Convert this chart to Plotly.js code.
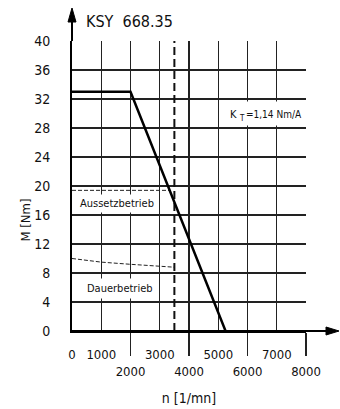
<!DOCTYPE html>
<html><head><meta charset="utf-8">
<script src="https://cdn.plot.ly/plotly-3.0.1.min.js"></script>
<style>html,body{margin:0;padding:0;background:#fff}#chart{width:340px;height:409px}</style>
</head><body><div id="chart"></div>
<script>
// Characteristic M(n)
const speedCurve = [0, 2000, 5250];
const torqueCurve = [33, 33, 0];
// Vertical dashed limit
const limitSpeed = [3500, 3500];
const limitTorque = [0, 40];
// Intermittent duty (Aussetzbetrieb) dashed line
const s3Speed = [0, 3350];
const s3Torque = [19.4, 19.4];
// Continuous duty (Dauerbetrieb) dashed line
const s1Speed = [0, 1000, 2000, 3000, 3500];
const s1Torque = [10.0, 9.5, 9.2, 8.95, 8.8];
// Ticks
const xTicks = [0, 1000, 2000, 3000, 4000, 5000, 6000, 7000, 8000];
const xTickText = ['0', '1000', '<br>2000', '3000', '<br>4000', '5000', '<br>6000', '7000', '<br>8000'];
const xLongTicks = [2000, 4000, 6000, 8000];
const yTicks = [0, 4, 8, 12, 16, 20, 24, 28, 32, 36, 40];

const FONT = '"DejaVu Sans Condensed", "Liberation Sans Narrow", "DejaVu Sans", sans-serif';
const INK = '#111';

// pixel -> paper helpers for axis decorations (plot area 72..306 x 41..331)
const px = v => (v - 72) / 234;
const py = v => (331 - v) / 290;

const traces = [
  {x: s3Speed, y: s3Torque, mode: 'lines', line: {color: '#222', width: 1, dash: '4px,2px'}, hoverinfo: 'skip'},
  {x: s1Speed, y: s1Torque, mode: 'lines', line: {color: '#222', width: 1, dash: '4px,2px'}, hoverinfo: 'skip'},
  {x: limitSpeed, y: limitTorque, mode: 'lines', line: {color: '#111', width: 2, dash: '8px,4px'}, hoverinfo: 'skip'},
  {x: speedCurve, y: torqueCurve, mode: 'lines', line: {color: '#000', width: 2.5}, hoverinfo: 'skip'}
];

const ktX = 5368, ktY = 29.9;

const layout = {
  width: 340, height: 409,
  margin: {l: 72, r: 34, t: 41, b: 78, pad: 0},
  paper_bgcolor: '#fff', plot_bgcolor: '#fff',
  showlegend: false,
  font: {family: FONT, color: INK, size: 13},
  title: {text: 'KSY&nbsp;&nbsp;668.35', x: 86/340, xanchor: 'left', y: 1 - 21/409, yanchor: 'middle',
          font: {family: FONT, size: 16, color: INK}},
  xaxis: {
    title: {text: 'n [1/mn]', standoff: 16, font: {family: FONT, size: 14, color: INK}},
    range: [0, 8000], tickmode: 'array', tickvals: xTicks, ticktext: xTickText, tickangle: 0,
    ticks: 'outside', ticklen: 10, tickcolor: 'rgba(0,0,0,0)',
    showgrid: true, gridcolor: '#222', gridwidth: 1.4,
    showline: true, linecolor: '#000', linewidth: 2, zeroline: false,
    tickfont: {family: FONT, size: 13, color: INK},
    minor: {tickmode: 'array', tickvals: xLongTicks, ticks: 'outside', ticklen: 23, tickwidth: 1.2, tickcolor: '#222', showgrid: false},
    fixedrange: true
  },
  yaxis: {
    range: [0, 40], tickmode: 'array', tickvals: yTicks,
    ticks: 'outside', ticklen: 17, tickcolor: 'rgba(0,0,0,0)',
    showgrid: true, gridcolor: '#222', gridwidth: 1.4,
    showline: true, linecolor: '#000', linewidth: 2, zeroline: false,
    tickfont: {family: FONT, size: 14, color: INK},
    fixedrange: true
  },
  shapes: [
    {type: 'rect', xref: 'x', yref: 'y', x0: 5220, x1: 7880, y0: 28.35, y1: 31.65, layer: 'above',
     fillcolor: '#fff', line: {width: 0}},
    {type: 'line', xref: 'paper', yref: 'paper', x0: 0, x1: px(330), y0: 0, y1: 0, line: {color: '#000', width: 2}},
    {type: 'path', xref: 'paper', yref: 'paper',
     path: `M ${px(339)} ${py(331)} L ${px(326)} ${py(327)} L ${px(326)} ${py(335)} Z`,
     fillcolor: '#000', line: {color: '#000', width: 1}},
    {type: 'line', xref: 'paper', yref: 'paper', x0: 0, x1: 0, y0: 1, y1: py(18), line: {color: '#000', width: 2}},
    {type: 'path', xref: 'paper', yref: 'paper',
     path: `M ${px(72)} ${py(8)} L ${px(68)} ${py(22)} L ${px(76)} ${py(22)} Z`,
     fillcolor: '#000', line: {color: '#000', width: 1}}
  ],
  annotations: [
    {xref: 'x', yref: 'y', x: 1555, y: 17.6, text: 'Aussetzbetrieb', showarrow: false,
     bgcolor: '#fff', borderpad: 2, font: {family: FONT, size: 11, color: INK}},
    {xref: 'x', yref: 'y', x: 1624, y: 5.9, text: 'Dauerbetrieb', showarrow: false,
     bgcolor: '#fff', borderpad: 3, font: {family: FONT, size: 11, color: INK}},
    {xref: 'x', yref: 'y', x: ktX, y: ktY, xanchor: 'left', borderpad: 0, text: 'K', showarrow: false,
     font: {family: FONT, size: 11, color: INK}},
    {xref: 'x', yref: 'y', x: ktX, y: ktY, xanchor: 'left', xshift: 9, yshift: -4, borderpad: 0, text: 'T', showarrow: false,
     font: {family: FONT, size: 8, color: INK}},
    {xref: 'x', yref: 'y', x: ktX, y: ktY, xanchor: 'left', xshift: 16, borderpad: 0, text: '=1,14 Nm/A', showarrow: false,
     font: {family: FONT, size: 10, color: INK}},
    {xref: 'paper', yref: 'paper', x: px(15), y: py(220), text: 'M [Nm]', textangle: -90,
     showarrow: false, font: {family: FONT, size: 13, color: INK}}
  ]
};

Plotly.newPlot('chart', traces, layout, {staticPlot: true, displayModeBar: false});
</script></body></html>
